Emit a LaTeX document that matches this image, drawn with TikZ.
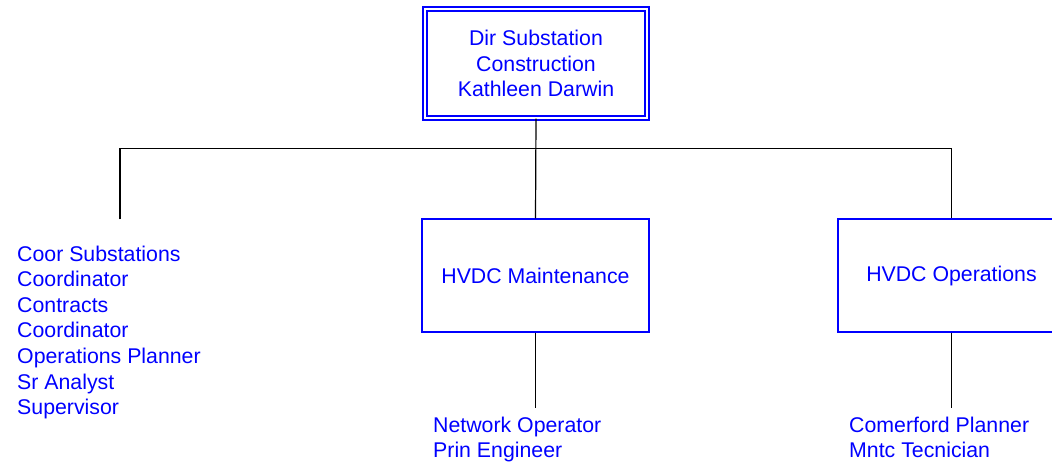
\documentclass[tikz,border=0pt]{standalone}
\usepackage{fontspec}
\setmainfont{Liberation Sans}
\usetikzlibrary{positioning}
\tikzset{
    unitbox/.style={draw=blue, line width=1.3pt, text=blue, align=center, inner sep=0pt,
        minimum width=227pt, minimum height=113pt},
    headbox/.style={unitbox, double=white, double distance=2.8pt,
        minimum width=222pt, minimum height=109pt},
    staff/.style={text=blue, align=left, inner sep=0pt, anchor=north west},
    link/.style={line width=1.2pt}
}

\begin{document}
\begin{tikzpicture}[x=1pt, y=-1pt, font=\fontsize{21.3}{25.6}\selectfont]
        % frame
        \clip (0,0) rectangle (1052,465);

        % boxes
        \node[headbox] (dir) at (536,63.5) {Dir Substation\\Construction\\Kathleen Darwin};
        \node[unitbox] (mnt) at (535.5,275.5) {HVDC Maintenance};
        \node[unitbox] (ops) at (951.5,275.5) {HVDC Operations};

        % staff lists
        \node[staff] (coor) at (17,245.4) {Coor Substations\\Coordinator\\Contracts\\Coordinator\\Operations Planner\\Sr Analyst\\Supervisor};
        \node[staff] (net) at (433,416.6) {Network Operator\\Prin Engineer};
        \node[staff] (com) at (849,416.6) {Comerford Planner\\Mntc Tecnician};

        % connectors
        \coordinate (bus) at (120,148.3);
        \coordinate (lft) at (120,219.3);
        \coordinate (mntend) at (535.5,408.3);
        \coordinate (opsend) at (951.5,408.3);
        \draw[link] (dir.south) -- (mnt.north);
        \draw[link] (lft) -- (bus) -| (ops.north);
        \draw[link] (mnt.south) -- (mntend);
        \draw[link] (ops.south) -- (opsend);
    \end{tikzpicture}
\end{document}
